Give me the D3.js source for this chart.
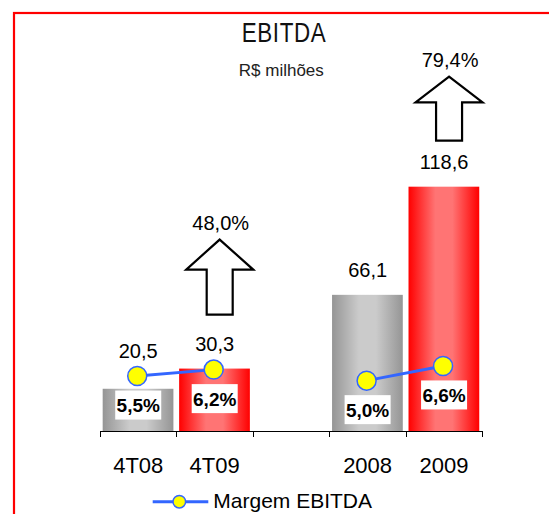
<!DOCTYPE html>
<html>
<head>
<meta charset="utf-8">
<script src="https://cdn.jsdelivr.net/npm/d3@7"></script>
<style>
  html, body { margin: 0; padding: 0; background: #fff; }
  svg { display: block; }
</style>
</head>
<body>
<svg id="chart" width="549" height="514"></svg>
<script>
// ---- data ----
const categories = ["4T08", "4T09", "", "2008", "2009"];
const ebitda = [20.5, 30.3, null, 66.1, 118.6];          // R$ milhões
const margem = [5.5, 6.2, null, 5.0, 6.6];               // Margem EBITDA (%)
const periodType = ["prev", "curr", null, "prev", "curr"];
const growthFrom = ["4T08", "2008"];
const growthTo = ["4T09", "2009"];
const growthValues = [48.0, 79.4];                      // %
const titleText = "EBITDA";
const subtitleText = "R$ milhões";
const legendLabel = "Margem EBITDA";

const fmt = v => v.toFixed(1).replace(".", ",");

// ---- layout ----
const svg = d3.select("#chart");
const W = 549, H = 514;
const base = 431;
const FONT = "'Liberation Sans', Arial, sans-serif";
const arrowLayout = { "4T09": { gap: 36, h: 75 }, "2009": { gap: 28, h: 64 } };

const x = d3.scaleBand().domain(categories).range([100, 482.3]).padding(0);
const y = d3.scaleLinear().domain([0, 140]).range([base, base - 140 * 2.06]);
const y2 = d3.scaleLinear().domain([0, 10]).range([426.6, 334.7]);

const defs = svg.append("defs");
function grad(id, edge, mid) {
  const g = defs.append("linearGradient").attr("id", id)
    .attr("x1", "0%").attr("x2", "100%").attr("y1", "0%").attr("y2", "0%");
  [[0, edge], [0.38, mid], [0.62, mid], [1, edge]].forEach(([o, c]) =>
    g.append("stop").attr("offset", o).attr("stop-color", c));
}
grad("gGray", "#959595", "#cbcbcb");
grad("gRed", "#ff0000", "#ff7474");

// border
svg.append("rect").attr("x", 14).attr("y", 13).attr("width", W + 20).attr("height", H + 20)
  .attr("fill", "none").attr("stroke", "#ff0000").attr("stroke-width", 2.2);

// title (condensed)
svg.append("g").attr("transform", "translate(284,41.7) scale(0.8,1)")
  .append("text").attr("x", 0).attr("y", 0).attr("text-anchor", "middle")
  .attr("font-family", FONT).attr("font-size", 28).attr("letter-spacing", 0.8)
  .attr("fill", "#111").text(titleText);
svg.append("text").attr("x", 281.3).attr("y", 75.7).attr("text-anchor", "middle")
  .attr("font-family", FONT).attr("font-size", 17)
  .attr("fill", "#222").text(subtitleText);

const bw = x.bandwidth();
const rows = categories.map((c, i) => ({ c, v: ebitda[i], m: margem[i], t: periodType[i] }))
  .filter(d => d.v != null);

// bars
svg.append("g").selectAll("rect").data(rows).join("rect")
  .attr("x", d => x(d.c) + bw * 0.035)
  .attr("width", bw * 0.925)
  .attr("y", d => y(d.v))
  .attr("height", d => base - y(d.v))
  .attr("fill", d => d.t === "curr" ? "url(#gRed)" : "url(#gGray)");

// axis
const ax = svg.append("g");
ax.append("line").attr("x1", x.range()[0]).attr("x2", x.range()[1])
  .attr("y1", base + 0.5).attr("y2", base + 0.5).attr("stroke", "#000").attr("stroke-width", 1);
const bounds = categories.map(c => x(c)).concat([x.range()[1]]);
ax.selectAll("line.tk").data(bounds).join("line").attr("class", "tk")
  .attr("x1", d => Math.round(d) + 0.5).attr("x2", d => Math.round(d) + 0.5)
  .attr("y1", base).attr("y2", base + 6).attr("stroke", "#000");
ax.selectAll("text").data(categories.filter(c => c !== "")).join("text")
  .attr("x", c => x(c) + bw / 2).attr("y", 472.7).attr("text-anchor", "middle")
  .attr("font-family", FONT).attr("font-size", 22).attr("fill", "#000").text(c => c);

// margin line (two segments)
const cx = c => x(c) + bw / 2;
const pairs = [["4T08", "4T09"], ["2008", "2009"]];
const byCat = Object.fromEntries(rows.map(d => [d.c, d]));
svg.append("g").selectAll("line").data(pairs).join("line")
  .attr("x1", p => cx(p[0]) - 1).attr("y1", p => y2(byCat[p[0]].m))
  .attr("x2", p => cx(p[1]) - 1).attr("y2", p => y2(byCat[p[1]].m))
  .attr("stroke", "#3366ff").attr("stroke-width", 3);
svg.append("g").selectAll("circle").data(rows).join("circle")
  .attr("cx", d => cx(d.c) - 1).attr("cy", d => y2(d.m)).attr("r", 9.5)
  .attr("fill", "#ffff00").attr("stroke", "#3366ff").attr("stroke-width", 1.5);

// margin labels
const ml = svg.append("g").selectAll("g").data(rows).join("g");
ml.append("rect")
  .attr("x", d => cx(d.c) - 23).attr("y", d => y2(d.m) + 29 - 14.5)
  .attr("width", 46).attr("height", 29).attr("fill", "#fff");
ml.append("text")
  .attr("x", d => cx(d.c)).attr("y", d => y2(d.m) + 29 + 7)
  .attr("text-anchor", "middle").attr("font-family", FONT).attr("font-weight", "bold")
  .attr("font-size", 19).attr("fill", "#000").text(d => fmt(d.m) + "%");

// value labels
const labelY = d => Math.min(y(d.v), y2(d.m)) - 18;
svg.append("g").selectAll("text").data(rows).join("text")
  .attr("x", d => cx(d.c)).attr("y", labelY).attr("text-anchor", "middle")
  .attr("font-family", FONT).attr("font-size", 20).attr("fill", "#000").text(d => fmt(d.v));

// growth arrows
const growth = growthTo.map((c, i) => ({ c, from: growthFrom[i], g: growthValues[i] }));
const arrowBottom = d => labelY(byCat[d.c]) - arrowLayout[d.c].gap;
const arrowTop = d => arrowBottom(d) - arrowLayout[d.c].h;
const ag = svg.append("g").selectAll("g").data(growth).join("g");
ag.append("path")
  .attr("d", d => {
    const bottom = arrowBottom(d);
    const h = arrowLayout[d.c].h;
    const top = bottom - h;
    const mx = cx(d.c) + 5;
    const headH = h * 0.4, hw = 33.5, sw = 13;
    return `M${mx},${top} L${mx + hw},${top + headH} L${mx + sw},${top + headH} L${mx + sw},${bottom}` +
           ` L${mx - sw},${bottom} L${mx - sw},${top + headH} L${mx - hw},${top + headH} Z`;
  })
  .attr("fill", "#fff").attr("stroke", "#000").attr("stroke-width", 2.2).attr("stroke-linejoin", "miter");
ag.append("text")
  .attr("x", d => cx(d.c) + 6)
  .attr("y", d => arrowTop(d) - 10)
  .attr("text-anchor", "middle").attr("font-family", FONT).attr("font-size", 20)
  .attr("fill", "#000").text(d => fmt(d.g) + "%");

// legend
const lg = svg.append("g");
lg.append("line").attr("x1", 152.7).attr("x2", 208.3).attr("y1", 501.7).attr("y2", 501.7)
  .attr("stroke", "#3366ff").attr("stroke-width", 3);
lg.append("circle").attr("cx", 179.3).attr("cy", 501.7).attr("r", 6.3)
  .attr("fill", "#ffff00").attr("stroke", "#3366ff").attr("stroke-width", 1.5);
lg.append("text").attr("x", 213.3).attr("y", 507.5).attr("font-family", FONT)
  .attr("font-size", 21).attr("fill", "#000").text(legendLabel);
</script>
</body>
</html>
